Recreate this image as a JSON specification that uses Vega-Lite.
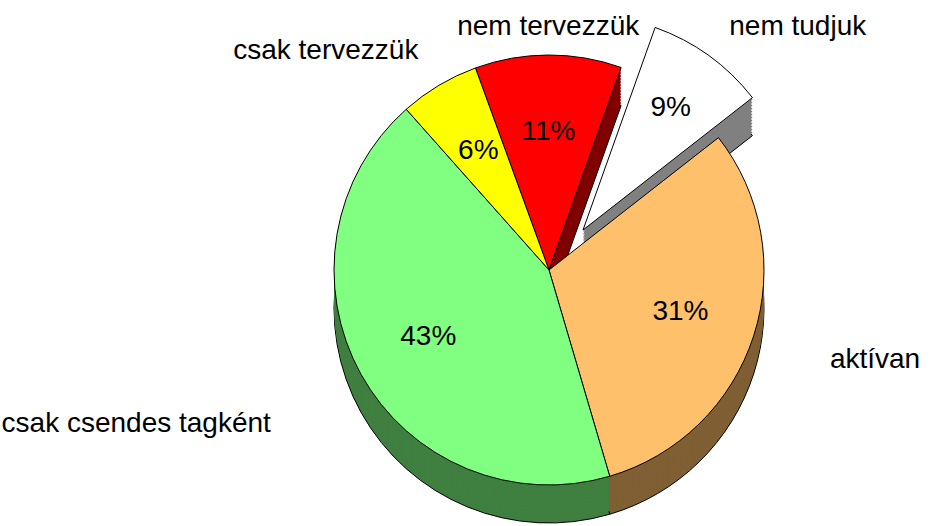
{
  "$schema": "https://vega.github.io/schema/vega-lite/v6.json",
  "width": 766,
  "height": 512,
  "autosize": {"type": "none"},
  "padding": {"left": 166, "top": 14, "right": 0, "bottom": 0},
  "background": "white",
  "view": {"stroke": null},
  "config": {"text": {"font": "Liberation Sans", "fontSize": 28, "color": "black"}},
  "data": {"values": [
    {"kat": "nem tervezzük", "v": 0.11, "o": 1},
    {"kat": "nem tudjuk", "v": 0.09, "o": 2},
    {"kat": "aktívan", "v": 0.31, "o": 3},
    {"kat": "csak csendes tagként", "v": 0.43, "o": 4},
    {"kat": "csak tervezzük", "v": 0.06, "o": 5}
  ]},
  "encoding": {
    "theta": {"field": "v", "type": "quantitative", "stack": true, "scale": {"domain": [0, 1], "range": [-0.349, 5.934]}},
    "order": {"field": "o", "type": "quantitative"},
    "fill": {"field": "kat", "type": "nominal", "legend": null, "scale": {"domain": ["nem tervezzük", "nem tudjuk", "aktívan", "csak csendes tagként", "csak tervezzük"], "range": ["#800000", "#808080", "#7F5F33", "#3F7F3F", "#808000"]}}
  },
  "layer": [
    {"mark": {"type": "arc", "radius": 215, "xOffset": 34, "yOffset": -2, "stroke": "black", "strokeWidth": 1}, "encoding": {"opacity": {"condition": {"test": "datum.kat === 'nem tudjuk'", "value": 1}, "value": 0}}},
    {"mark": {"type": "arc", "radius": 215, "xOffset": 34, "yOffset": -5}, "encoding": {"opacity": {"condition": {"test": "datum.kat === 'nem tudjuk'", "value": 1}, "value": 0}}},
    {"mark": {"type": "arc", "radius": 215, "xOffset": 34, "yOffset": -8}, "encoding": {"opacity": {"condition": {"test": "datum.kat === 'nem tudjuk'", "value": 1}, "value": 0}}},
    {"mark": {"type": "arc", "radius": 215, "xOffset": 34, "yOffset": -11}, "encoding": {"opacity": {"condition": {"test": "datum.kat === 'nem tudjuk'", "value": 1}, "value": 0}}},
    {"mark": {"type": "arc", "radius": 215, "xOffset": 34, "yOffset": -14}, "encoding": {"opacity": {"condition": {"test": "datum.kat === 'nem tudjuk'", "value": 1}, "value": 0}}},
    {"mark": {"type": "arc", "radius": 215, "xOffset": 34, "yOffset": -17}, "encoding": {"opacity": {"condition": {"test": "datum.kat === 'nem tudjuk'", "value": 1}, "value": 0}}},
    {"mark": {"type": "arc", "radius": 215, "xOffset": 34, "yOffset": -20}, "encoding": {"opacity": {"condition": {"test": "datum.kat === 'nem tudjuk'", "value": 1}, "value": 0}}},
    {"mark": {"type": "arc", "radius": 215, "xOffset": 34, "yOffset": -23}, "encoding": {"opacity": {"condition": {"test": "datum.kat === 'nem tudjuk'", "value": 1}, "value": 0}}},
    {"mark": {"type": "arc", "radius": 215, "xOffset": 34, "yOffset": -26}, "encoding": {"opacity": {"condition": {"test": "datum.kat === 'nem tudjuk'", "value": 1}, "value": 0}}},
    {"mark": {"type": "arc", "radius": 215, "xOffset": 34, "yOffset": -29}, "encoding": {"opacity": {"condition": {"test": "datum.kat === 'nem tudjuk'", "value": 1}, "value": 0}}},
    {"mark": {"type": "arc", "radius": 215, "xOffset": 34, "yOffset": -32}, "encoding": {"opacity": {"condition": {"test": "datum.kat === 'nem tudjuk'", "value": 1}, "value": 0}}},
    {"mark": {"type": "arc", "radius": 215, "xOffset": 34, "yOffset": -35}, "encoding": {"opacity": {"condition": {"test": "datum.kat === 'nem tudjuk'", "value": 1}, "value": 0}}},
    {"mark": {"type": "arc", "radius": 215, "xOffset": 34, "yOffset": -38}, "encoding": {"opacity": {"condition": {"test": "datum.kat === 'nem tudjuk'", "value": 1}, "value": 0}}},
    {
      "mark": {"type": "arc", "radius": 215, "xOffset": 34, "yOffset": -40, "stroke": "black", "strokeWidth": 1},
      "encoding": {
        "fill": {"field": "kat", "type": "nominal", "legend": null, "scale": {"domain": ["nem tervezzük", "nem tudjuk", "aktívan", "csak csendes tagként", "csak tervezzük"], "range": ["#FF0000", "#FFFFFF", "#FFC06C", "#80FF80", "#FFFF00"]}},
        "opacity": {"condition": {"test": "datum.kat === 'nem tudjuk'", "value": 1}, "value": 0}
      }
    },
    {"mark": {"type": "arc", "radius": 215, "yOffset": 38, "stroke": "black", "strokeWidth": 1}, "encoding": {"opacity": {"condition": {"test": "datum.kat === 'nem tudjuk'", "value": 0}, "value": 1}}},
    {"mark": {"type": "arc", "radius": 215, "yOffset": 35}, "encoding": {"opacity": {"condition": {"test": "datum.kat === 'nem tudjuk'", "value": 0}, "value": 1}}},
    {"mark": {"type": "arc", "radius": 215, "yOffset": 32}, "encoding": {"opacity": {"condition": {"test": "datum.kat === 'nem tudjuk'", "value": 0}, "value": 1}}},
    {"mark": {"type": "arc", "radius": 215, "yOffset": 29}, "encoding": {"opacity": {"condition": {"test": "datum.kat === 'nem tudjuk'", "value": 0}, "value": 1}}},
    {"mark": {"type": "arc", "radius": 215, "yOffset": 26}, "encoding": {"opacity": {"condition": {"test": "datum.kat === 'nem tudjuk'", "value": 0}, "value": 1}}},
    {"mark": {"type": "arc", "radius": 215, "yOffset": 23}, "encoding": {"opacity": {"condition": {"test": "datum.kat === 'nem tudjuk'", "value": 0}, "value": 1}}},
    {"mark": {"type": "arc", "radius": 215, "yOffset": 20}, "encoding": {"opacity": {"condition": {"test": "datum.kat === 'nem tudjuk'", "value": 0}, "value": 1}}},
    {"mark": {"type": "arc", "radius": 215, "yOffset": 17}, "encoding": {"opacity": {"condition": {"test": "datum.kat === 'nem tudjuk'", "value": 0}, "value": 1}}},
    {"mark": {"type": "arc", "radius": 215, "yOffset": 14}, "encoding": {"opacity": {"condition": {"test": "datum.kat === 'nem tudjuk'", "value": 0}, "value": 1}}},
    {"mark": {"type": "arc", "radius": 215, "yOffset": 11}, "encoding": {"opacity": {"condition": {"test": "datum.kat === 'nem tudjuk'", "value": 0}, "value": 1}}},
    {"mark": {"type": "arc", "radius": 215, "yOffset": 8}, "encoding": {"opacity": {"condition": {"test": "datum.kat === 'nem tudjuk'", "value": 0}, "value": 1}}},
    {"mark": {"type": "arc", "radius": 215, "yOffset": 5}, "encoding": {"opacity": {"condition": {"test": "datum.kat === 'nem tudjuk'", "value": 0}, "value": 1}}},
    {"mark": {"type": "arc", "radius": 215, "yOffset": 2}, "encoding": {"opacity": {"condition": {"test": "datum.kat === 'nem tudjuk'", "value": 0}, "value": 1}}},
    {
      "mark": {"type": "arc", "radius": 215, "stroke": "black", "strokeWidth": 1},
      "encoding": {
        "fill": {"field": "kat", "type": "nominal", "legend": null, "scale": {"domain": ["nem tervezzük", "nem tudjuk", "aktívan", "csak csendes tagként", "csak tervezzük"], "range": ["#FF0000", "#FFFFFF", "#FFC06C", "#80FF80", "#FFFF00"]}},
        "opacity": {"condition": {"test": "datum.kat === 'nem tudjuk'", "value": 0}, "value": 1}
      }
    },
    {
      "mark": {"type": "text", "radius": 138, "align": "center", "baseline": "middle"},
      "encoding": {
        "fill": null,
        "text": {"condition": {"test": "datum.kat !== 'nem tudjuk'", "field": "v", "type": "quantitative", "format": ".0%"}, "value": ""}
      }
    },
    {
      "mark": {"type": "text", "radius": 150, "xOffset": 34, "yOffset": -40, "align": "center", "baseline": "middle"},
      "encoding": {
        "fill": null,
        "text": {"condition": {"test": "datum.kat === 'nem tudjuk'", "field": "v", "type": "quantitative", "format": ".0%"}, "value": ""}
      }
    },
    {
      "mark": {"type": "text", "radius": 243, "align": "center", "baseline": "middle"},
      "encoding": {
        "fill": null,
        "text": {"condition": {"test": "datum.kat === 'nem tervezzük'", "field": "kat", "type": "nominal"}, "value": ""}
      }
    },
    {
      "mark": {"type": "text", "radius": 250, "xOffset": 34, "yOffset": -40, "align": "left", "baseline": "middle"},
      "encoding": {
        "fill": null,
        "text": {"condition": {"test": "datum.kat === 'nem tudjuk'", "field": "kat", "type": "nominal"}, "value": ""}
      }
    },
    {
      "mark": {"type": "text", "radius": 295, "align": "left", "baseline": "middle"},
      "encoding": {
        "fill": null,
        "text": {"condition": {"test": "datum.kat === 'aktívan'", "field": "kat", "type": "nominal"}, "value": ""}
      }
    },
    {
      "mark": {"type": "text", "radius": 318, "align": "right", "baseline": "middle"},
      "encoding": {
        "fill": null,
        "text": {"condition": {"test": "datum.kat === 'csak csendes tagként'", "field": "kat", "type": "nominal"}, "value": ""}
      }
    },
    {
      "mark": {"type": "text", "radius": 255, "align": "right", "baseline": "middle"},
      "encoding": {
        "fill": null,
        "text": {"condition": {"test": "datum.kat === 'csak tervezzük'", "field": "kat", "type": "nominal"}, "value": ""}
      }
    }
  ],
  "resolve": {"scale": {"fill": "independent"}}
}
